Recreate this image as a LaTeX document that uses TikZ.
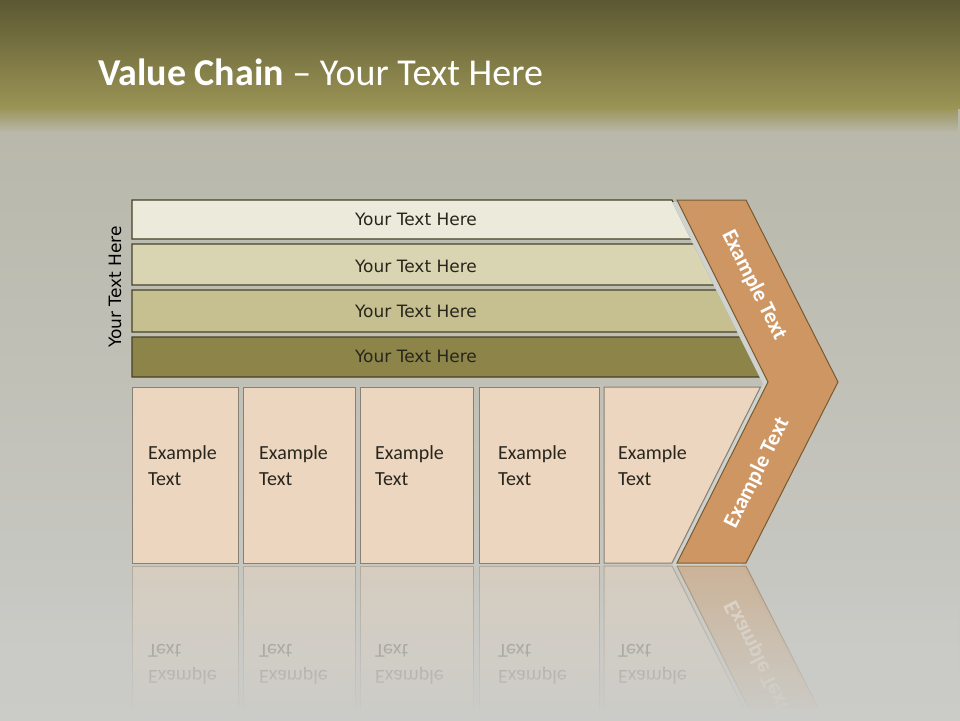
\documentclass[tikz,border=0pt]{standalone}
\usepackage{fontspec}
\setmainfont{Carlito}
\newfontfamily\dv{DejaVu Sans}
\usetikzlibrary{fadings}
\definecolor{hdtop}{RGB}{92,88,50}
\definecolor{hdbot}{RGB}{155,148,85}
\definecolor{bgtop}{RGB}{184,183,170}
\definecolor{bgbot}{RGB}{203,204,200}
\definecolor{barA}{RGB}{236,234,218}
\definecolor{barB}{RGB}{217,213,178}
\definecolor{barC}{RGB}{198,191,143}
\definecolor{barD}{RGB}{141,132,74}
\definecolor{barline}{RGB}{70,66,40}
\definecolor{boxfill}{RGB}{236,214,192}
\definecolor{boxline}{RGB}{135,128,115}
\definecolor{chev}{RGB}{205,150,98}
\definecolor{chevline}{RGB}{120,90,50}
\definecolor{glow}{RGB}{208,210,205}
\definecolor{txt}{RGB}{40,38,28}
\begin{document}
\begin{tikzpicture}[x=1pt,y=-1pt,
  bar/.style={draw=barline, line width=1.2pt},
  box/.style={draw=boxline, fill=boxfill, line width=1pt},
  chevshape/.style={draw=chevline, fill=chev, line width=1pt},
  bartext/.style={font=\dv\fontsize{17}{20}\selectfont, text=txt, inner sep=0},
  boxtext/.style={font=\fontsize{20}{26}\selectfont, text=txt, align=left, anchor=base west, inner sep=0},
  chevtext/.style={font=\bfseries\fontsize{22}{26}\selectfont, text=white, inner sep=0}]
\useasboundingbox (0,0) rectangle (960,720);
% background
\shade[top color=bgtop, bottom color=bgbot] (0,108) rectangle (960,720);
\shade[top color=hdtop, bottom color=hdbot] (0,0) rectangle (960,108);
\fill[hdbot, path fading=south] (0,107) rectangle (960,132);
\node[anchor=base west, text=white, font=\fontsize{38}{44}\selectfont, inner sep=0] (title) at (98,85) {\textbf{Value Chain} – Your Text Here};
% bars
\path[bar, fill=barA] (132,200) -- (672,200) -- (691.5,239) -- (132,239) -- cycle;
\path[bar, fill=barB] (132,244) -- (694,244) -- (714.5,285) -- (132,285) -- cycle;
\path[bar, fill=barC] (132,290) -- (717,290) -- (738,332) -- (132,332) -- cycle;
\path[bar, fill=barD] (132,337) -- (740.5,337) -- (760.5,377) -- (132,377) -- cycle;
\node[bartext] (t1) at (416,219) {Your Text Here};
\node[bartext] (t2) at (416,266) {Your Text Here};
\node[bartext] (t3) at (416,311) {Your Text Here};
\node[bartext] (t4) at (416,356.5) {Your Text Here};
\node[bartext, rotate=90, text=black] (side) at (115,287) {Your Text Here};
% boxes
\path[box] (132,387) rectangle (238,563);
\path[box] (243,387) rectangle (355,563);
\path[box] (360,387) rectangle (473,563);
\path[box] (479,387) rectangle (599,563);
\path[box] (604,387) -- (760.5,387) -- (672,563) -- (604,563) -- cycle;
\node[boxtext] (b1) at (148,485) {Example\\Text};
\node[boxtext] (b2) at (259,485) {Example\\Text};
\node[boxtext] (b3) at (375,485) {Example\\Text};
\node[boxtext] (b4) at (498,485) {Example\\Text};
\node[boxtext] (b5) at (618,485) {Example\\Text};
% chevron
\fill[glow] (672,202) -- (741,202) -- (833,384) -- (741,566) -- (672,566) -- (763,384) -- cycle;
\path[chevshape] (677,200) -- (746,200) -- (838,382) -- (746,563) -- (677,563) -- (768,382) -- cycle;
\node[chevtext, rotate=-63.43] (c1) at (754,285) {Example Text};
\node[chevtext, rotate=63.43] (c2) at (757,473) {Example Text};
% reflection (mirror about y = 564.5)
\begin{scope}
\clip (0,565) rectangle (960,708);
\begin{scope}[opacity=0.45]
\path[box] (132,566) rectangle (238,742);
\path[box] (243,566) rectangle (355,742);
\path[box] (360,566) rectangle (473,742);
\path[box] (479,566) rectangle (599,742);
\path[box] (604,742) -- (760.5,742) -- (672,566) -- (604,566) -- cycle;
\node[boxtext, yscale=-1] (r1) at (148,644) {Example\\Text};
\node[boxtext, yscale=-1] (r2) at (259,644) {Example\\Text};
\node[boxtext, yscale=-1] (r3) at (375,644) {Example\\Text};
\node[boxtext, yscale=-1] (r4) at (498,644) {Example\\Text};
\node[boxtext, yscale=-1] (r5) at (618,644) {Example\\Text};
\fill[glow] (763,745) -- (672,563) -- (741,563) -- (833,745) -- cycle;
\path[chevshape] (768,747) -- (677,566) -- (746,566) -- (838,747) -- cycle;
\node[chevtext, yscale=-1, rotate=63.43] (rc) at (757,656) {Example Text};
\end{scope}
\end{scope}
\fill[bgbot, path fading=north] (0,565) rectangle (960,720);
\end{tikzpicture}
\end{document}
